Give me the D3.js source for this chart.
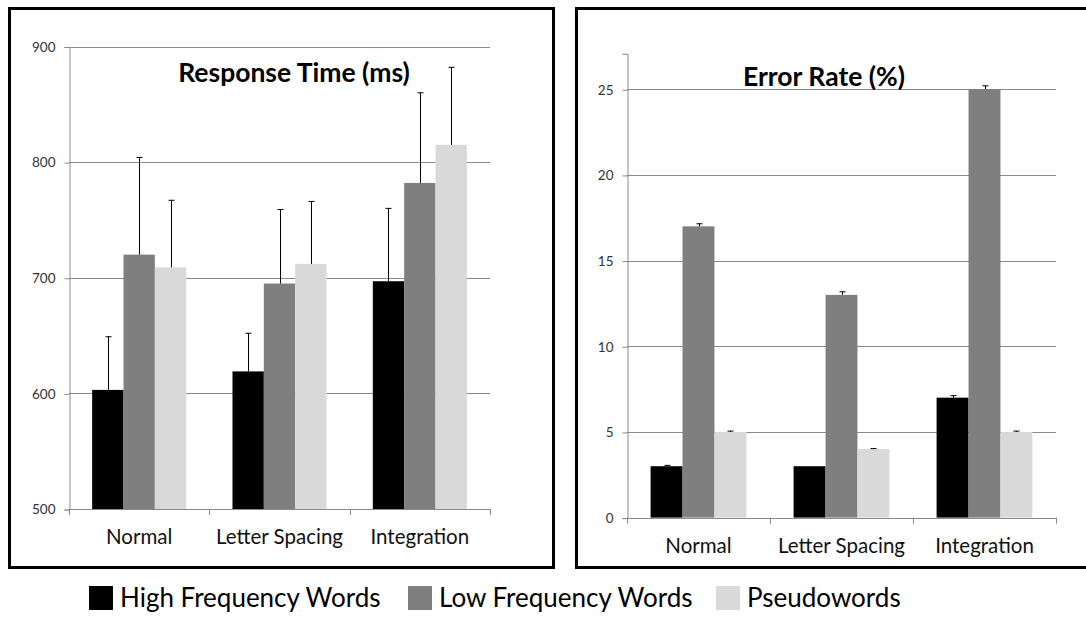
<!DOCTYPE html>
<html>
<head>
<meta charset="utf-8">
<script src="https://cdn.jsdelivr.net/npm/d3@7"></script>
<style>
  html, body { margin: 0; padding: 0; background: #fff; }
  svg { display: block; font-family: Lato, "Open Sans", sans-serif; }
</style>
</head>
<body>
<div id="chart"></div>
<script>
// Data
const categories = ["Normal", "Letter Spacing", "Integration"];
const seriesNames = ["High Frequency Words", "Low Frequency Words", "Pseudowords"];
const seriesColors = ["#000000", "#7f7f7f", "#d9d9d9"];

// Response time (ms): means and upper error bar length
const rtHigh = [603, 619, 697];
const rtLow = [720, 695, 782];
const rtPseudo = [709, 712, 815];
const rtHighErr = [46, 33, 63];
const rtLowErr = [84, 64, 78];
const rtPseudoErr = [58, 54, 67];
const rtTicks = [500, 600, 700, 800, 900];

// Error rate (%)
const erHigh = [3, 3, 7];
const erLow = [17, 13, 25];
const erPseudo = [5, 4, 5];
const erHighErr = [0.05, 0, 0.12];
const erLowErr = [0.15, 0.18, 0.2];
const erPseudoErr = [0.05, 0.03, 0.05];
const erTicks = [0, 5, 10, 15, 20, 25];

const width = 1086;
const height = 626;
const gridColor = "#898989";

const svg = d3
  .select("#chart")
  .append("svg")
  .attr("width", width)
  .attr("height", height);

function drawPanel({ box, plot, domain, ticks, title, titlePos, values, errors }) {
  const g = svg.append("g");

  // Frame
  g.append("rect")
    .attr("x", box.x)
    .attr("y", box.y)
    .attr("width", box.w)
    .attr("height", box.h)
    .attr("fill", "none")
    .attr("stroke", "#000")
    .attr("stroke-width", 3);

  const x = d3.scaleBand().domain(categories).range([plot.left, plot.right]);
  const xs = d3
    .scaleBand()
    .domain(seriesNames)
    .range([x.bandwidth() * 0.165, x.bandwidth() * 0.835]);
  const y = d3.scaleLinear().domain(domain).range([plot.bottom, plot.top]);

  // Gridlines
  g.append("g")
    .selectAll("line")
    .data(ticks.filter((t) => t !== domain[0]))
    .join("line")
    .attr("x1", plot.left)
    .attr("x2", plot.right)
    .attr("y1", (d) => Math.round(y(d)) + 0.5)
    .attr("y2", (d) => Math.round(y(d)) + 0.5)
    .attr("stroke", gridColor);

  // Y axis
  const gy = g
    .append("g")
    .attr("transform", `translate(${plot.left + 0.5},0.5)`)
    .call(d3.axisLeft(y).tickValues(ticks).tickSize(5).tickPadding(9))
    .attr("font-family", null)
    .attr("font-size", 13.5);
  gy.select(".domain").attr("stroke", gridColor);
  gy.selectAll(".tick line").attr("stroke", gridColor);
  gy.selectAll(".tick text").attr("fill", "#333");

  // Bars
  const rows = seriesNames.map((s, si) =>
    categories.map((c, ci) => ({
      cat: c,
      series: s,
      color: seriesColors[si],
      value: values[si][ci],
      err: errors[si][ci],
    }))
  );
  const flat = rows.flat();

  g.append("g")
    .selectAll("rect")
    .data(flat)
    .join("rect")
    .attr("x", (d) => x(d.cat) + xs(d.series))
    .attr("width", xs.bandwidth())
    .attr("y", (d) => y(d.value))
    .attr("height", (d) => y(domain[0]) - y(d.value))
    .attr("fill", (d) => d.color);

  // Error bars (upper only)
  const eb = g
    .append("g")
    .attr("stroke", "#000")
    .attr("stroke-width", 1)
    .selectAll("g")
    .data(flat.filter((d) => d.err > 0))
    .join("g")
    .attr("transform", (d) => `translate(${Math.round(x(d.cat) + xs(d.series) + xs.bandwidth() / 2) + 0.5},0)`);
  eb.append("line")
    .attr("y1", (d) => y(d.value))
    .attr("y2", (d) => y(d.value + d.err));
  eb.append("line")
    .attr("x1", -3)
    .attr("x2", 3)
    .attr("y1", (d) => y(d.value + d.err))
    .attr("y2", (d) => y(d.value + d.err));

  // X axis
  const bounds = categories.map((c) => x(c)).concat([plot.right]);
  g.append("line")
    .attr("x1", plot.left)
    .attr("x2", plot.right)
    .attr("y1", Math.round(y(domain[0])) + 0.5)
    .attr("y2", Math.round(y(domain[0])) + 0.5)
    .attr("stroke", gridColor);
  g.append("g")
    .selectAll("line")
    .data(bounds)
    .join("line")
    .attr("x1", (d) => Math.round(d) + 0.5)
    .attr("x2", (d) => Math.round(d) + 0.5)
    .attr("y1", y(domain[0]))
    .attr("y2", y(domain[0]) + 6)
    .attr("stroke", gridColor);
  g.append("g")
    .selectAll("text")
    .data(categories)
    .join("text")
    .attr("x", (d) => x(d) + x.bandwidth() / 2)
    .attr("y", y(domain[0]) + 35)
    .attr("text-anchor", "middle")
    .attr("font-size", 20.5)
    .attr("fill", "#111")
    .text((d) => d);

  // Title
  g.append("text")
    .attr("x", titlePos.x)
    .attr("y", titlePos.y)
    .attr("text-anchor", "middle")
    .attr("font-size", 26.5)
    .attr("font-weight", "bold")
    .attr("fill", "#000")
    .text(title);
}

drawPanel({
  box: { x: 9.5, y: 8.5, w: 544, h: 559 },
  plot: { left: 69, right: 490, top: 46.5, bottom: 509 },
  domain: [500, 900],
  ticks: rtTicks,
  title: "Response Time (ms)",
  titlePos: { x: 294, y: 82 },
  values: [rtHigh, rtLow, rtPseudo],
  errors: [rtHighErr, rtLowErr, rtPseudoErr],
});

drawPanel({
  box: { x: 576.5, y: 8.5, w: 540, h: 559 },
  plot: { left: 627, right: 1056, top: 53.3, bottom: 517.6 },
  domain: [0, 27.1],
  ticks: erTicks,
  title: "Error Rate (%)",
  titlePos: { x: 824, y: 86 },
  values: [erHigh, erLow, erPseudo],
  errors: [erHighErr, erLowErr, erPseudoErr],
});

// Legend
const legendX = [89, 408, 716];
const legend = svg
  .append("g")
  .selectAll("g")
  .data(seriesNames)
  .join("g")
  .attr("transform", (d, i) => `translate(${legendX[i]},598)`);
legend
  .append("rect")
  .attr("x", 0)
  .attr("y", -12)
  .attr("width", 24)
  .attr("height", 24)
  .attr("fill", (d, i) => seriesColors[i]);
legend
  .append("text")
  .attr("x", 31)
  .attr("dy", "0.35em")
  .attr("font-size", 26)
  .attr("fill", "#000")
  .text((d) => d);
</script>
</body>
</html>
